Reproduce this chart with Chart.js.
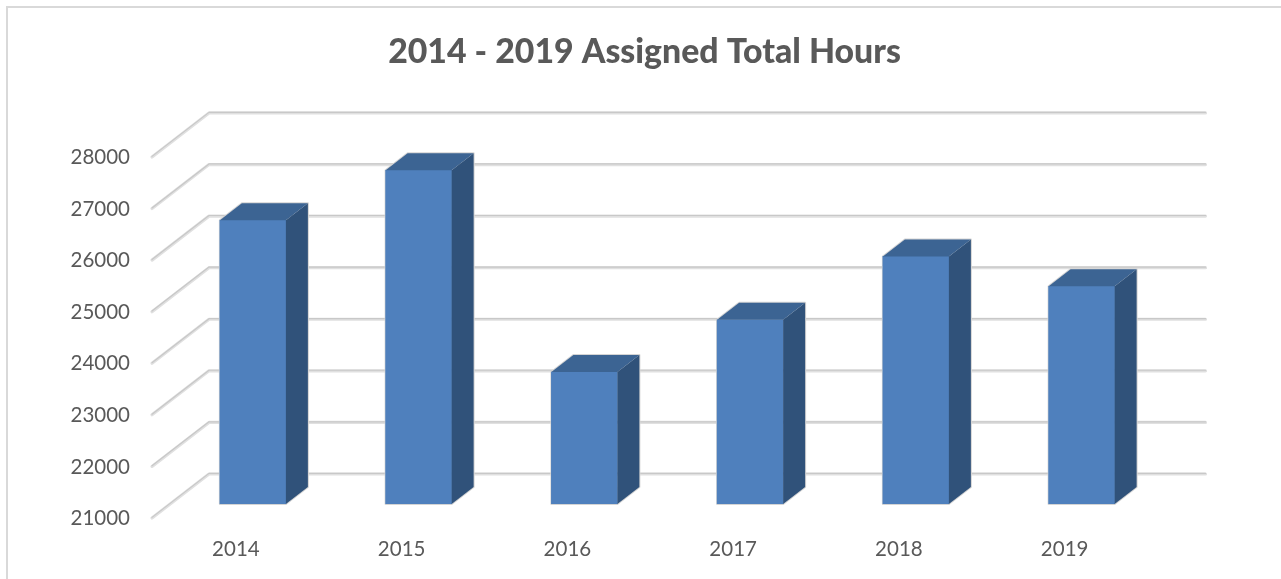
<!DOCTYPE html>
<html>
<head>
<meta charset="utf-8">
<style>
html,body{margin:0;padding:0;background:#fff;overflow:hidden;width:1281px;height:579px}
#frame{position:absolute;left:6px;top:6px;width:1400px;height:700px;border-left:2px solid #d9d9d9;border-top:2px solid #d9d9d9;box-sizing:border-box}
canvas{position:absolute;left:6px;top:6px}
</style>
<script src="https://cdn.jsdelivr.net/npm/chart.js@4"></script>
</head>
<body>
<div id="frame"></div>
<canvas id="c" width="1277" height="573"></canvas>
<script>
const titleText = '2014 - 2019 Assigned Total Hours';
const categories = ['2014', '2015', '2016', '2017', '2018', '2019'];
const hours = [26500, 27470, 23560, 24570, 25800, 25220];
const axisMin = 21000;
const axisMax = 28000;
const axisStep = 1000;

const FRONT = '#4f80bd', TOP = '#3c6493', SIDE = '#30527a';
const DEPTH_X = 22, DEPTH_Y = 17;

const poly = (ctx, pts, fill) => {
  ctx.beginPath();
  pts.forEach((p, i) => i ? ctx.lineTo(p[0], p[1]) : ctx.moveTo(p[0], p[1]));
  ctx.closePath();
  ctx.fillStyle = fill;
  ctx.fill();
};

const walls = {
  id: 'walls',
  beforeDatasetsDraw(chart) {
    const { ctx, scales: { y }, chartArea: a } = chart;
    const x0 = a.left - 18, x1 = a.left + 39, x2 = a.right + 41;
    ctx.save();
    ctx.lineCap = 'round';
    ctx.lineJoin = 'round';
    y.ticks.forEach(t => {
      const p = y.getPixelForValue(t.value);
      const path = () => {
        ctx.beginPath();
        ctx.moveTo(x0, p + 14);
        ctx.lineTo(x1, p - 30);
        ctx.lineTo(x2, p - 30);
      };
      ctx.strokeStyle = '#e0e0e0';
      ctx.lineWidth = 3.2;
      path(); ctx.stroke();
      ctx.strokeStyle = '#c8c8c8';
      ctx.lineWidth = 1.2;
      ctx.translate(0, -0.6);
      path(); ctx.stroke();
      ctx.translate(0, 0.6);
    });
    // soft outline round each block
    chart.getDatasetMeta(0).data.forEach(b => {
      const l = b.x - b.width / 2, r = b.x + b.width / 2;
      ctx.beginPath();
      ctx.moveTo(l, b.base);
      ctx.lineTo(l, b.y);
      ctx.lineTo(l + DEPTH_X, b.y - DEPTH_Y);
      ctx.lineTo(r + DEPTH_X, b.y - DEPTH_Y);
      ctx.lineTo(r + DEPTH_X, b.base - DEPTH_Y);
      ctx.lineTo(r, b.base);
      ctx.closePath();
      ctx.strokeStyle = '#d4d4d4';
      ctx.lineWidth = 2;
      ctx.stroke();
    });
    ctx.restore();
  },
  afterDatasetsDraw(chart) {
    const { ctx } = chart;
    chart.getDatasetMeta(0).data.forEach(b => {
      const l = b.x - b.width / 2, r = b.x + b.width / 2;
      poly(ctx, [[l, b.y], [l + DEPTH_X, b.y - DEPTH_Y], [r + DEPTH_X, b.y - DEPTH_Y], [r, b.y]], TOP);
      poly(ctx, [[r, b.y], [r + DEPTH_X, b.y - DEPTH_Y], [r + DEPTH_X, b.base - DEPTH_Y], [r, b.base]], SIDE);
    });
  }
};

new Chart(document.getElementById('c'), {
  type: 'bar',
  data: {
    labels: categories,
    datasets: [{ data: hours, base: axisMin, backgroundColor: FRONT, barThickness: 66, borderWidth: 0 }]
  },
  plugins: [walls],
  options: {
    responsive: false,
    animation: false,
    plugins: {
      legend: { display: false },
      tooltip: { enabled: false },
      title: {
        display: true,
        text: titleText,
        color: '#595959',
        font: { family: 'Lato', size: 33.8, weight: 900, lineHeight: 1.2 },
        padding: { top: 26, bottom: 70.4 }
      }
    },
    scales: {
      x: {
        grid: { display: false, drawTicks: false },
        border: { display: false },
        afterFit: s => { s.height = 75; },
        ticks: {
          color: '#595959',
          font: { family: 'Lato', size: 20.5 },
          padding: 33,
          labelOffset: -17,
          maxRotation: 0
        }
      },
      y: {
        min: axisMin,
        max: axisMax,
        grid: { display: false, drawTicks: false },
        border: { display: false },
        afterFit: s => { s.width = 164; },
        ticks: {
          stepSize: axisStep,
          color: '#595959',
          font: { family: 'Lato', size: 20.5 },
          padding: 40,
          labelOffset: 14.5,
          callback: v => String(v)
        }
      },
      gutter: {
        position: 'right',
        axis: 'y',
        min: axisMin,
        max: axisMax,
        grid: { display: false, drawTicks: false },
        border: { display: false },
        ticks: { display: false },
        afterFit: s => { s.width = 118.5; }
      }
    }
  }
});
</script>
</body>
</html>
